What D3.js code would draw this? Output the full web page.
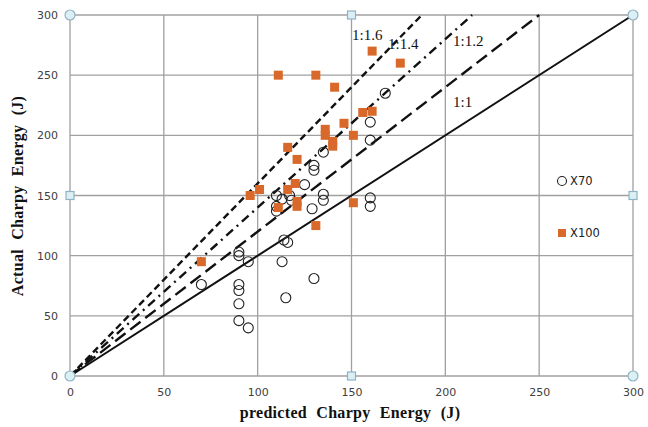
<!DOCTYPE html>
<html>
<head>
<meta charset="utf-8">
<script src="https://cdn.jsdelivr.net/npm/d3@7"></script>
<style>
  body { margin: 0; background: #fff; }
  .tick text { font-family: "DejaVu Sans", Verdana, sans-serif; font-size: 11px; fill: #404040; }
  .axis-title { font-family: "Liberation Serif", "Times New Roman", serif; font-weight: bold; font-size: 16px; word-spacing: 5px; letter-spacing: 0.3px; fill: #111; }
  .ratio-label { font-family: "Liberation Serif", "Times New Roman", serif; font-size: 15px; fill: #111; }
  .legend-text { font-family: "DejaVu Sans", Verdana, sans-serif; font-size: 11.5px; fill: #222; }
</style>
</head>
<body>
<div id="chart"></div>
<script>
// axis ticks
var xTicks = [0, 50, 100, 150, 200, 250, 300];
var yTicks = [0, 50, 100, 150, 200, 250, 300];

// X70 steel: [predicted, actual]
var x70 = [
    [70, 76], [90, 103], [90, 100], [90, 76], [90, 71], [90, 60], [90, 46],
    [95, 40], [95, 95], [113, 95], [114, 113], [116, 111], [115, 65], [130, 81],
    [110, 150], [110, 141], [110, 137], [113, 147], [117, 150], [118, 146],
    [125, 159], [129, 139], [130, 175], [130, 171], [135, 186], [135, 151],
    [135, 146], [160, 148], [160, 141], [160, 196], [160, 211], [168, 235]
];

// X100 steel: [predicted, actual]
var x100 = [
    [70, 95], [96, 150], [101, 155], [111, 250], [111, 140], [116, 190], [116, 155],
    [121, 180], [120, 160], [121, 145], [121, 141], [131, 250], [131, 125],
    [136, 205], [136, 200], [141, 240], [140, 195], [140, 191], [146, 210],
    [151, 200], [151, 144], [156, 219], [161, 220], [161, 270], [176, 260]
];

// reference lines actual = k * predicted
var ratios = [
    {name: "1:1", k: 1.0, dash: null, lx: 453, ly: 107},
    {name: "1:1.2", k: 1.2, dash: "13,6", lx: 453, ly: 46},
    {name: "1:1.4", k: 1.4, dash: "9,5,2,5", lx: 388, ly: 49},
    {name: "1:1.6", k: 1.6, dash: "7,4", lx: 352, ly: 40}
];

var margin = {top: 15, right: 15, bottom: 51, left: 70},
    width = 648 - margin.left - margin.right,
    height = 427 - margin.top - margin.bottom;

var x = d3.scaleLinear().domain([0, 300]).range([0, width]);
var y = d3.scaleLinear().domain([0, 300]).range([height, 0]);

var svg = d3.select("#chart").append("svg")
    .attr("width", 648)
    .attr("height", 427);

var g = svg.append("g")
    .attr("transform", "translate(" + margin.left + "," + margin.top + ")");

// gridlines
g.append("g").selectAll("line")
    .data(xTicks).enter().append("line")
    .attr("x1", function(d) { return x(d); })
    .attr("x2", function(d) { return x(d); })
    .attr("y1", 0).attr("y2", height)
    .attr("stroke", "#a0a0a0").attr("stroke-width", 1.3);

g.append("g").selectAll("line")
    .data(yTicks).enter().append("line")
    .attr("y1", function(d) { return y(d); })
    .attr("y2", function(d) { return y(d); })
    .attr("x1", 0).attr("x2", width)
    .attr("stroke", "#a0a0a0").attr("stroke-width", 1.3);

// axes (labels only)
var xAxis = d3.axisBottom(x).tickValues(xTicks).tickSize(0).tickPadding(12);
var yAxis = d3.axisLeft(y).tickValues(yTicks).tickSize(0).tickPadding(12);

g.append("g")
    .attr("transform", "translate(0," + height + ")")
    .call(xAxis)
    .call(function(s) { s.select(".domain").remove(); });

g.append("g")
    .call(yAxis)
    .call(function(s) { s.select(".domain").remove(); });

// axis titles
svg.append("text")
    .attr("class", "axis-title")
    .attr("x", 350).attr("y", 418)
    .attr("text-anchor", "middle")
    .text("predicted Charpy Energy (J)");

svg.append("text")
    .attr("class", "axis-title")
    .attr("transform", "translate(23,196) rotate(-90)")
    .attr("text-anchor", "middle")
    .text("Actual Charpy Energy (J)");

// ratio lines
g.append("g").selectAll("line")
    .data(ratios).enter().append("line")
    .attr("x1", x(0)).attr("y1", y(0))
    .attr("x2", function(d) { return x(Math.min(300, 300 / d.k)); })
    .attr("y2", function(d) { return y(Math.min(300, 300 / d.k) * d.k); })
    .attr("stroke", "#111")
    .attr("stroke-width", function(d) { return d.dash ? 2.4 : 2; })
    .attr("stroke-dasharray", function(d) { return d.dash; });

svg.selectAll(".ratio-label")
    .data(ratios).enter().append("text")
    .attr("class", "ratio-label")
    .attr("x", function(d) { return d.lx; })
    .attr("y", function(d) { return d.ly; })
    .text(function(d) { return d.name; });

// X70 points
g.append("g").selectAll("circle")
    .data(x70).enter().append("circle")
    .attr("cx", function(d) { return x(d[0]); })
    .attr("cy", function(d) { return y(d[1]); })
    .attr("r", 5)
    .attr("fill", "none")
    .attr("stroke", "#222")
    .attr("stroke-width", 1.1);

// X100 points
g.append("g").selectAll("rect")
    .data(x100).enter().append("rect")
    .attr("x", function(d) { return x(d[0]) - 4.5; })
    .attr("y", function(d) { return y(d[1]) - 4.5; })
    .attr("width", 9).attr("height", 9)
    .attr("fill", "#d9692a");

// legend
var legend = svg.append("g");
legend.append("circle")
    .attr("cx", 562).attr("cy", 181).attr("r", 4.5)
    .attr("fill", "none").attr("stroke", "#222").attr("stroke-width", 1.1);
legend.append("text").attr("class", "legend-text")
    .attr("x", 570).attr("y", 185).text("X70");
legend.append("rect")
    .attr("x", 558).attr("y", 229).attr("width", 8).attr("height", 8)
    .attr("fill", "#d9692a");
legend.append("text").attr("class", "legend-text")
    .attr("x", 570).attr("y", 237).text("X100");

// selection handles on plot frame
var handleFill = "#dcf0f4", handleStroke = "#8fb3c6";
var corners = [[0, 0], [300, 0], [0, 300], [300, 300]];
var mids = [[150, 0], [150, 300], [0, 150], [300, 150]];

g.append("g").selectAll("circle")
    .data(corners).enter().append("circle")
    .attr("cx", function(d) { return x(d[0]); })
    .attr("cy", function(d) { return y(d[1]); })
    .attr("r", 5)
    .attr("fill", handleFill).attr("stroke", handleStroke).attr("stroke-width", 1.2);

g.append("g").selectAll("rect")
    .data(mids).enter().append("rect")
    .attr("x", function(d) { return x(d[0]) - 4; })
    .attr("y", function(d) { return y(d[1]) - 4; })
    .attr("width", 8).attr("height", 8)
    .attr("fill", handleFill).attr("stroke", handleStroke).attr("stroke-width", 1.2);
</script>
</body>
</html>
